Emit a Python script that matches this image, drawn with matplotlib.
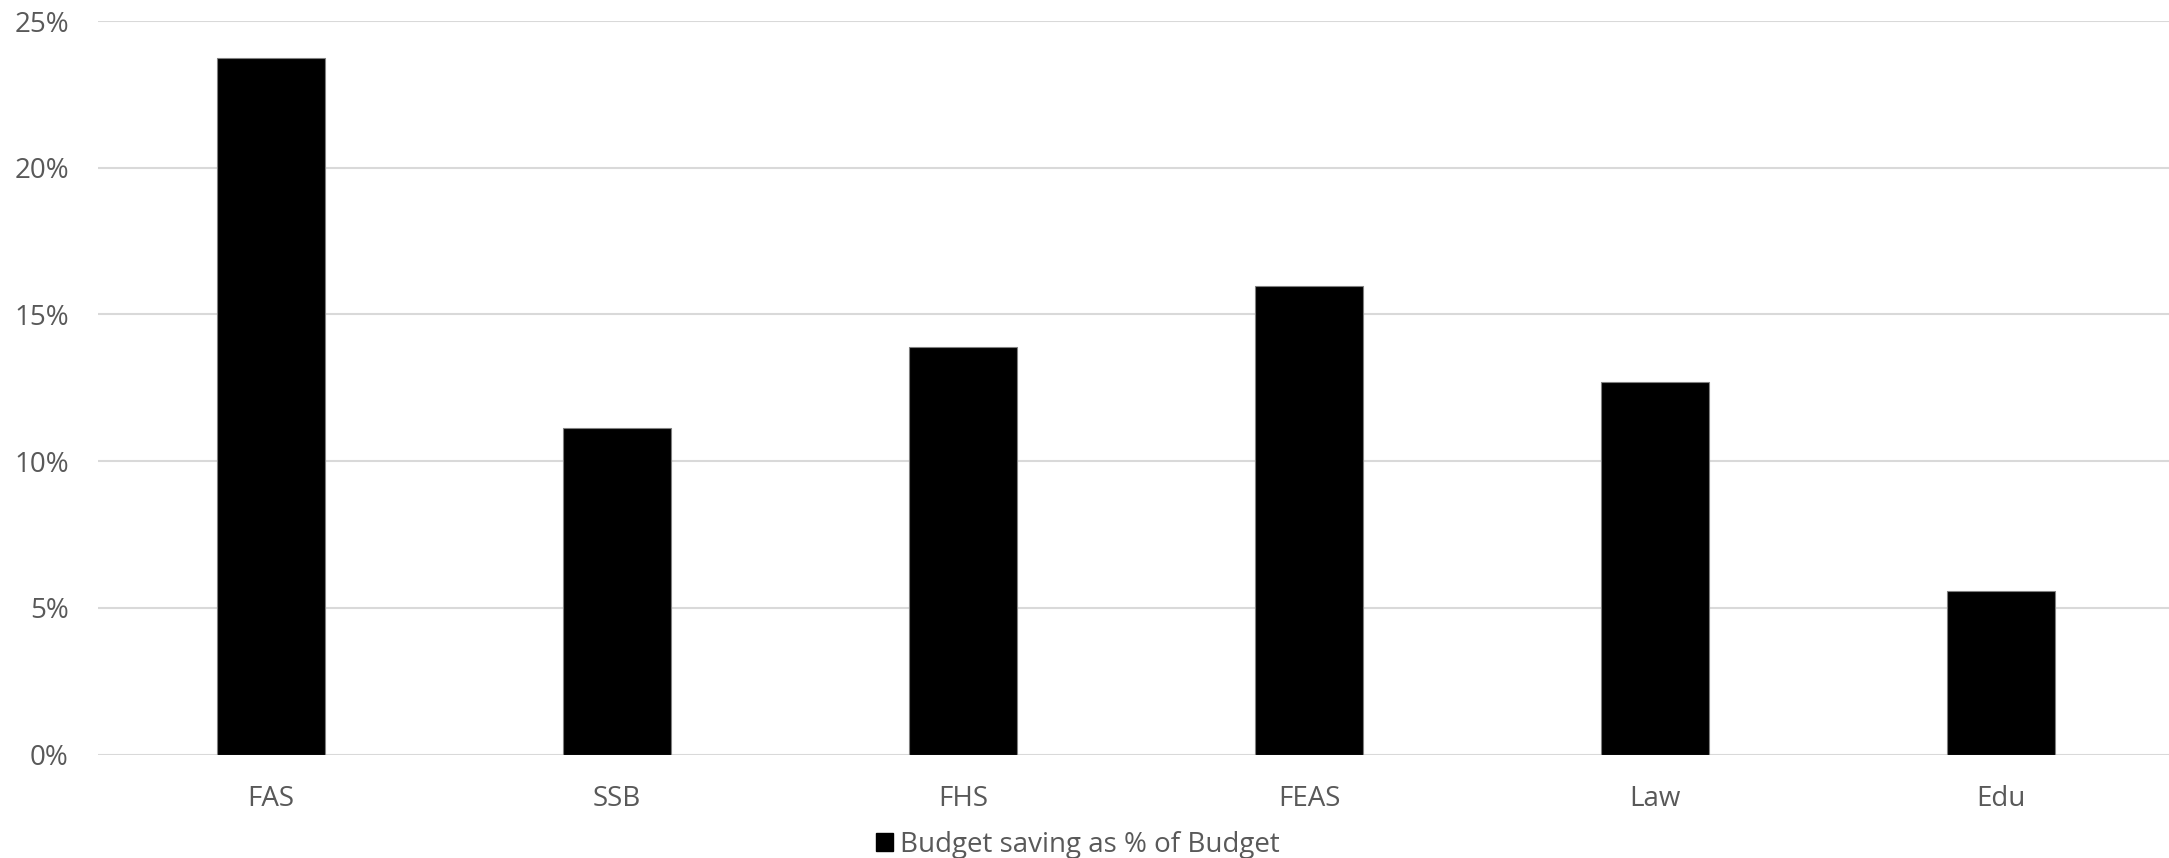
import matplotlib.pyplot as plt
from matplotlib.ticker import PercentFormatter
from matplotlib.patches import Patch

# Budget saving by faculty, as a share of budget (%)
faculties = ['FAS', 'SSB', 'FHS', 'FEAS', 'Law', 'Edu']
saving_pct = [23.73, 11.14, 13.88, 15.96, 12.71, 5.57]
yticks = [0, 5, 10, 15, 20, 25]

plt.rcParams['font.family'] = ['Open Sans', 'DejaVu Sans']
text_color = '#595959'

fig = plt.figure(figsize=(21.69, 8.58), dpi=100)
ax = fig.add_axes([98 / 2169, 0.1206, 2076 / 2169, 0.8549])

x = range(len(faculties))
ax.bar(x, saving_pct, width=0.313, color='black', edgecolor='#808080', linewidth=0.8, zorder=3)

ax.set_xlim(-0.5, len(faculties) - 0.5)
ax.set_ylim(0, 25)
ax.set_yticks(yticks)
ax.yaxis.set_major_formatter(PercentFormatter(decimals=0))
ax.set_xticks(list(x))
ax.set_xticklabels(faculties)

ax.grid(axis='y', color='#d9d9d9', linewidth=1.5, zorder=0)
ax.set_axisbelow(True)
for s in ax.spines.values():
    s.set_visible(False)
ax.tick_params(axis='both', length=0, labelsize=20, colors=text_color)
ax.tick_params(axis='y', pad=21)
ax.tick_params(axis='x', pad=22)

fig.legend(handles=[Patch(facecolor='black', edgecolor='black', label='Budget saving as % of Budget')],
           loc='center', bbox_to_anchor=(1078 / 2169, 1 - 845 / 858), frameon=False,
           fontsize=20, labelcolor=text_color, handlelength=0.6, handleheight=0.6, handletextpad=0.25,
           borderpad=0)

fig.savefig('out.png', dpi=100)
